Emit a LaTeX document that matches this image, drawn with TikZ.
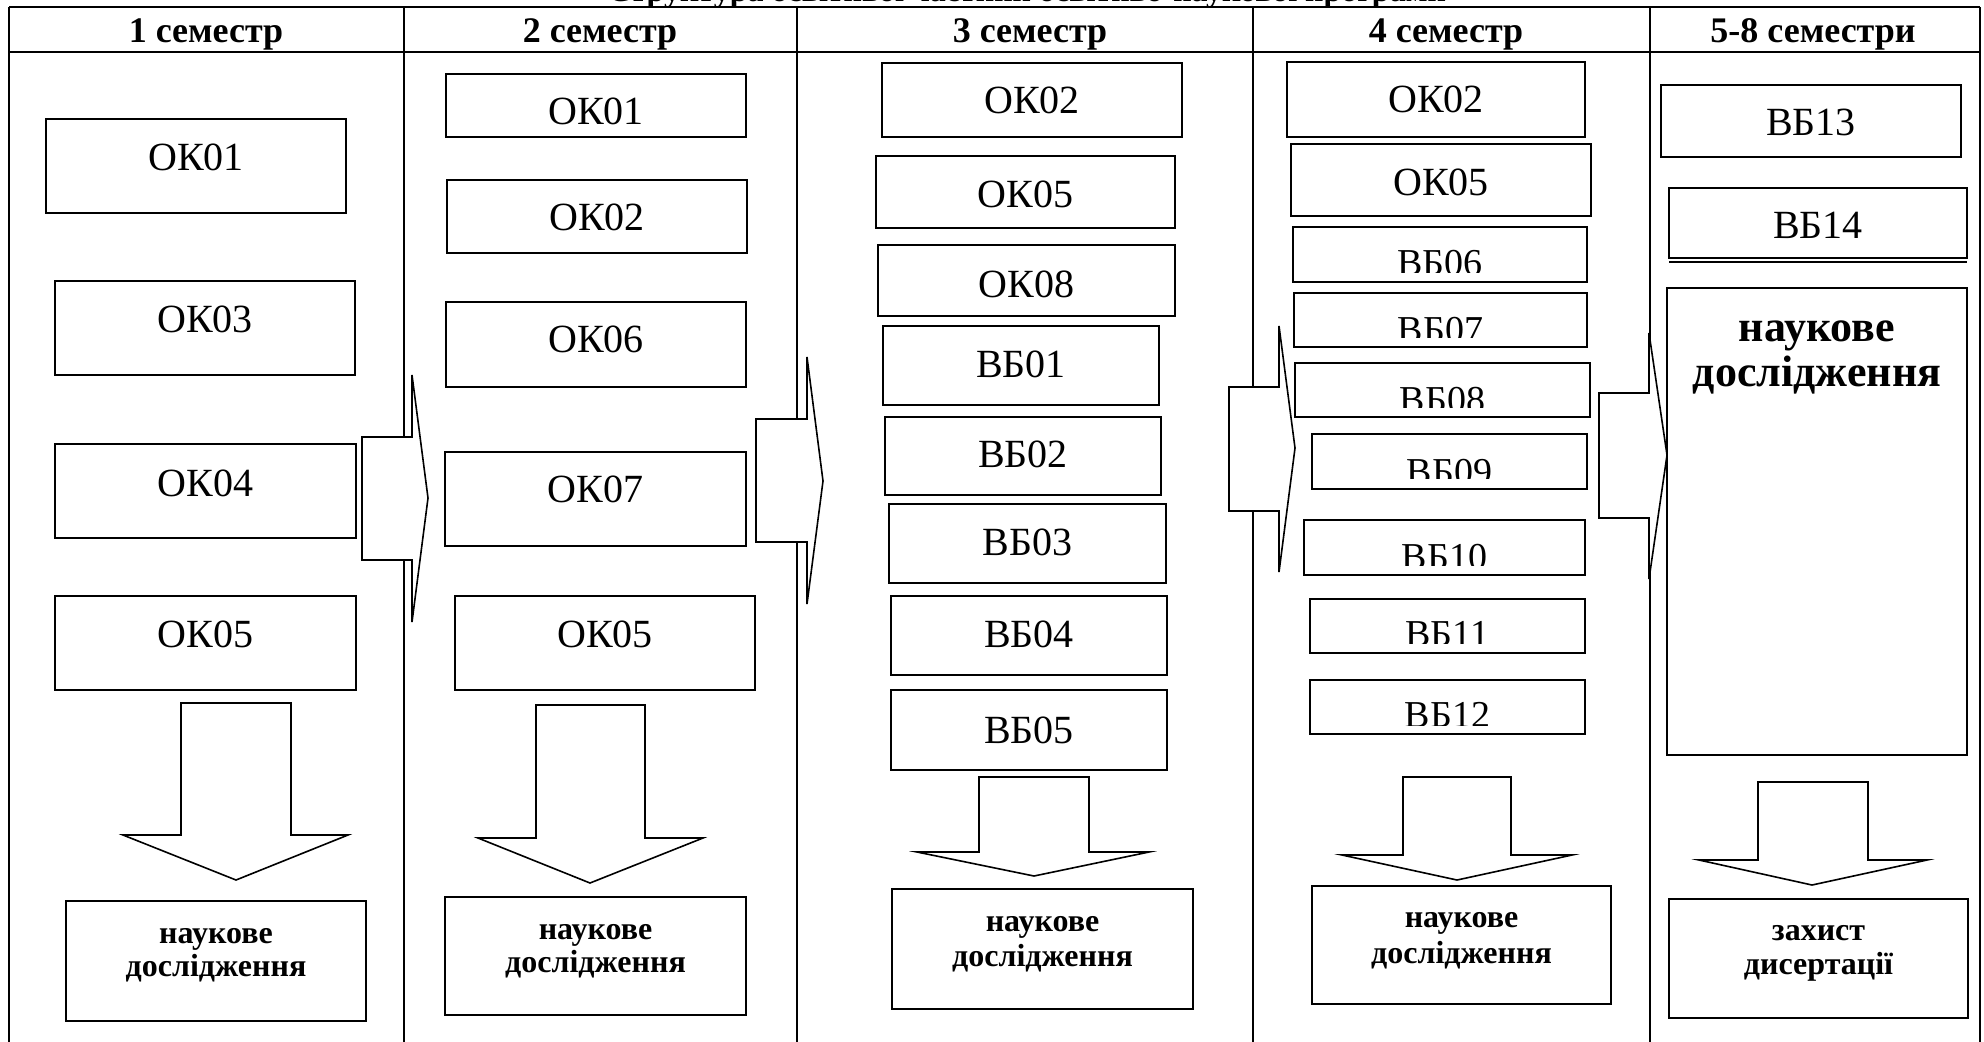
\documentclass[tikz,border=0pt]{standalone}
\usepackage{fontspec}
\setmainfont{Liberation Serif}
\tikzset{
  grid/.style={line width=1.3pt},
  box/.style={draw, line width=1pt, fill=white, inner sep=0pt, outer sep=0pt},
  lbl/.style={font=\fontsize{20}{24}\selectfont, inner sep=0pt, anchor=base},
  vlbl/.style={font=\fontsize{19}{23}\selectfont, inner sep=0pt, anchor=base},
  hdr/.style={font=\bfseries\fontsize{18}{22}\selectfont, inner sep=0pt, anchor=base},
  sml/.style={font=\bfseries\fontsize{16}{19}\selectfont, inner sep=0pt, anchor=base},
  big/.style={font=\bfseries\fontsize{22}{26}\selectfont, inner sep=0pt, anchor=base},
  blk/.style={draw, line width=0.8pt, fill=white, line join=miter},
}
% box with label: name, x1, y1, x2, y2, baseline, text
\newcommand\cbox[7]{%
  \node[box, minimum width={(#4-(#2))*0.5pt}, minimum height={(#5-(#3))*0.5pt}] (#1) at ({(#2+#4)/2},{(#3+#5)/2}) {};
  \node[lbl] (#1t) at ({(#2+#4)/2},#6) {#7};}
% box with clipped label: name, x1, y1, x2, y2, baseline, clip, text
\newcommand\kbox[8]{%
  \node[box, minimum width={(#4-(#2))*0.5pt}, minimum height={(#5-(#3))*0.5pt}] (#1) at ({(#2+#4)/2},{(#3+#5)/2}) {};
  \begin{scope}
    \clip (#2,#3) rectangle (#4,#7);
    \node[vlbl] (#1t) at ({(#2+#4)/2},#6) {#8};
  \end{scope}}
% bottom box with two bold lines: name, x1, y1, x2, y2, base1, base2, line1, line2
\newcommand\bbox[9]{%
  \node[box, minimum width={(#4-(#2))*0.5pt}, minimum height={(#5-(#3))*0.5pt}] (#1) at ({(#2+#4)/2},{(#3+#5)/2}) {};
  \node[sml] (#1a) at ({(#2+#4)/2},#6) {#8};
  \node[sml] (#1b) at ({(#2+#4)/2},#7) {#9};}
\begin{document}
\begin{tikzpicture}[x=0.5pt,y=-0.5pt]
\useasboundingbox[fill=white] (0,0) rectangle (1984,1041);

% title (cut off at the top edge)
\node[font=\bfseries\fontsize{16}{19}\selectfont, inner sep=0pt, anchor=base] (title) at (1027,1) {Структура освітньої частини освітньо-наукової програми};

% table
\coordinate (tl) at (9,7);
\coordinate (tr) at (1980,7);
\coordinate (hl) at (9,52);
\coordinate (hr) at (1980,52);
\draw[grid] (tl) -- (tr);
\draw[grid] (hl) -- (hr);
\foreach \xx/\nm in {9/v0,404/v1,797/v2,1253/v3,1650/v4,1980/v5}{
  \coordinate (\nm t) at (\xx,7);
  \coordinate (\nm b) at (\xx,1050);
  \draw[grid] (\nm t) -- (\nm b);
}

% headers
\node[hdr] (h1) at (206,42) {1 семестр};
\node[hdr] (h2) at (600,42) {2 семестр};
\node[hdr] (h3) at (1030,42) {3 семестр};
\node[hdr] (h4) at (1446,42) {4 семестр};
\node[hdr] (h5) at (1813,42) {5-8 семестри};

% right block arrows across the column lines
\draw[blk] (362,437) -- (412,437) -- (412,375) -- (428,498) -- (412,622) -- (412,560) -- (362,560) -- cycle;
\draw[blk] (756,419) -- (807,419) -- (807,357) -- (823,481) -- (807,604) -- (807,542) -- (756,542) -- cycle;
\draw[blk] (1229,387) -- (1279,387) -- (1279,326) -- (1295,448) -- (1279,572) -- (1279,511) -- (1229,511) -- cycle;
\draw[blk] (1599,393) -- (1649,393) -- (1649,333) -- (1667,455) -- (1649,579) -- (1649,518) -- (1599,518) -- cycle;

% down block arrows
\draw[blk] (181,703) -- (291,703) -- (291,835) -- (348,835) -- (236,880) -- (123,835) -- (181,835) -- cycle;
\draw[blk] (536,705) -- (645,705) -- (645,838) -- (703,838) -- (590,883) -- (478,838) -- (536,838) -- cycle;
\draw[blk] (979,777) -- (1089,777) -- (1089,852) -- (1149,852) -- (1034,876) -- (917,852) -- (979,852) -- cycle;
\draw[blk] (1403,777) -- (1511,777) -- (1511,855) -- (1572,855) -- (1457,880) -- (1342,855) -- (1403,855) -- cycle;
\draw[blk] (1758,782) -- (1868,782) -- (1868,860) -- (1927,860) -- (1812,885) -- (1699,860) -- (1758,860) -- cycle;

% column 1
\cbox{a1}{46}{119}{346}{213}{170}{ОК01}
\cbox{a2}{55}{281}{355}{375}{332}{ОК03}
\cbox{a3}{55}{444}{356}{538}{496}{ОК04}
\cbox{a4}{55}{596}{356}{690}{647}{ОК05}
\bbox{a5}{66}{901}{366}{1021}{943}{976}{наукове}{дослідження}

% column 2
\cbox{b1}{446}{74}{746}{137}{124}{ОК01}
\cbox{b2}{447}{180}{747}{253}{230}{ОК02}
\cbox{b3}{446}{302}{746}{387}{352}{ОК06}
\cbox{b4}{445}{452}{746}{546}{502}{ОК07}
\cbox{b5}{455}{596}{755}{690}{647}{ОК05}
\bbox{b6}{445}{897}{746}{1015}{939}{972}{наукове}{дослідження}

% column 3
\cbox{c1}{882}{63}{1182}{137}{113}{ОК02}
\cbox{c2}{876}{156}{1175}{228}{207}{ОК05}
\cbox{c3}{878}{245}{1175}{316}{297}{ОК08}
\cbox{c4}{883}{326}{1159}{405}{377}{ВБ01}
\cbox{c5}{885}{417}{1161}{495}{467}{ВБ02}
\cbox{c6}{889}{504}{1166}{583}{555}{ВБ03}
\cbox{c7}{891}{596}{1167}{675}{647}{ВБ04}
\cbox{c8}{891}{690}{1167}{770}{743}{ВБ05}
\bbox{c9}{892}{889}{1193}{1009}{931}{966}{наукове}{дослідження}

% column 4
\cbox{d1}{1287}{62}{1585}{137}{112}{ОК02}
\cbox{d2}{1291}{144}{1591}{216}{195}{ОК05}
\kbox{d3}{1293}{227}{1587}{282}{275}{272}{ВБ06}
\kbox{d4}{1294}{293}{1587}{347}{342}{337}{ВБ07}
\kbox{d5}{1295}{363}{1590}{417}{412}{407}{ВБ08}
\kbox{d6}{1312}{434}{1587}{489}{484}{478}{ВБ09}
\kbox{d7}{1304}{520}{1585}{575}{569}{565}{ВБ10}
\kbox{d8}{1310}{599}{1585}{653}{646}{643}{ВБ11}
\kbox{d9}{1310}{680}{1585}{734}{727}{725}{ВБ12}
\bbox{d10}{1312}{886}{1611}{1004}{927}{963}{наукове}{дослідження}

% column 5
\cbox{e1}{1661}{85}{1961}{157}{135}{ВБ13}
\cbox{e2}{1669}{188}{1967}{258}{238}{ВБ14}
\coordinate (e2l) at (1669,262);
\coordinate (e2r) at (1967,262);
\draw[line width=0.8pt] (e2l) -- (e2r);
\node[box, minimum width={300*0.5pt}, minimum height={467*0.5pt}] (e3) at (1817,521.5) {};
\node[big] (e3a) at (1817,341) {наукове};
\node[big] (e3b) at (1817,386) {дослідження};
\bbox{e4}{1669}{899}{1968}{1018}{940}{974}{захист}{дисертації}
\end{tikzpicture}
\end{document}
